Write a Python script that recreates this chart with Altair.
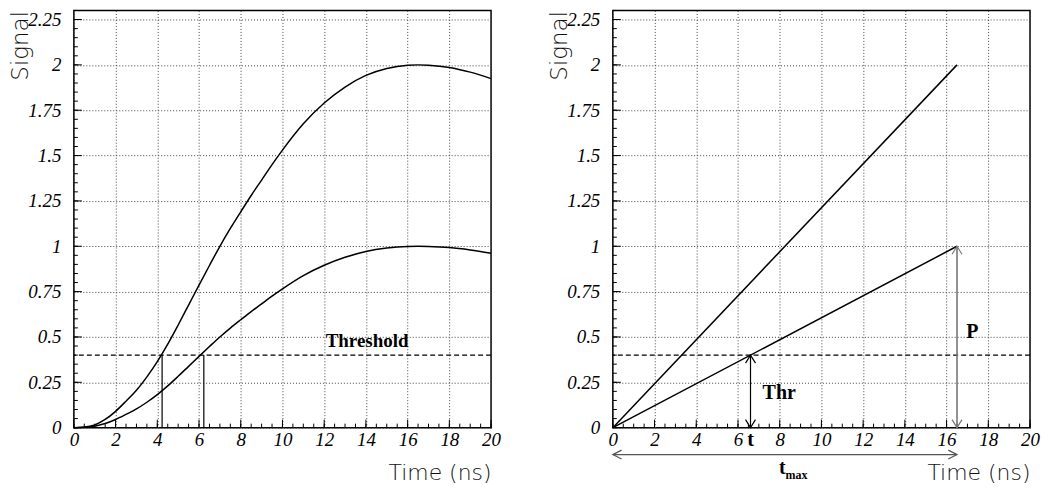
import altair as alt
import numpy as np
import pandas as pd

# ---------------- data ----------------
time_ns = [0, 0.5, 1, 1.5, 2, 2.5, 3, 3.5, 4, 4.5, 5, 5.5, 6, 6.5, 7, 7.5, 8,
           8.5, 9, 9.5, 10, 11, 12, 13, 14, 15, 16, 16.5, 17, 18, 19, 20]
signal_small = [0, 0.0015, 0.0075, 0.0225, 0.045, 0.073, 0.103, 0.14, 0.182, 0.23,
                0.283, 0.338, 0.393, 0.447, 0.5, 0.549, 0.595, 0.64, 0.682, 0.725,
                0.765, 0.838, 0.895, 0.939, 0.971, 0.99, 0.999, 1.0, 0.999, 0.993,
                0.98, 0.962]
signal_large = [0, 0.003, 0.015, 0.045, 0.09, 0.146, 0.206, 0.28, 0.364, 0.46,
                0.566, 0.676, 0.786, 0.894, 1.0, 1.098, 1.19, 1.28, 1.365, 1.45,
                1.53, 1.675, 1.79, 1.878, 1.942, 1.98, 1.998, 2.0, 1.998, 1.986,
                1.96, 1.924]
crossing_times = [4.23, 6.23]
threshold = [0.4]

ramp_time = [0, 16.5]
ramp_small = [0, 1.0]
ramp_large = [0, 2.0]
t_cross = [6.6]
t_peak = [16.5]
peak_value = [1.0]

x_major = list(range(0, 21, 2))
y_major = [0, 0.25, 0.5, 0.75, 1, 1.25, 1.5, 1.75, 2, 2.25]
x_minor = [round(v, 2) for v in np.arange(0, 20.001, 0.5)]
y_minor = [round(v, 3) for v in np.arange(0, 2.3001, 0.05)]

# ---------------- styling ----------------
W = 418
H = 418
SERIF = "Liberation Serif"
SANS = "DejaVu Sans"

xscale = alt.Scale(domain=[0, 20], nice=False, zero=False)
yscale = alt.Scale(domain=[0, 2.3], nice=False, zero=False)

xaxis = alt.Axis(
    values=x_major, format=".3~g", grid=True, gridDash=[1, 2], gridColor="#444", gridWidth=1,
    ticks=False, tickSize=0, domain=False,
    labelFont=SERIF, labelFontStyle="italic", labelFontSize=19, labelColor="black",
    labelPadding=18, labelBaseline="alphabetic", labelFlush=False, labelOverlap=False,
    title="Time (ns)", titleFont=SANS, titleFontSize=22, titleFontWeight=200,
    titleColor="#111", titleX=W, titleY=52, titleAlign="right",
    titleBaseline="alphabetic", titleAngle=0,
)
yaxis = alt.Axis(
    values=y_major, format=".3~g", grid=True, gridDash=[1, 2], gridColor="#444", gridWidth=1,
    ticks=False, tickSize=0, domain=False,
    labelFont=SERIF, labelFontStyle="italic", labelFontSize=19, labelColor="black",
    labelPadding=13, labelBaseline="middle", labelAlign="right", labelFlush=False,
    labelOverlap=False,
    title="Signal", titleFont=SANS, titleFontSize=23, titleFontWeight=200,
    titleColor="#111", titleAngle=270, titleX=-46, titleY=0, titleAlign="right",
    titleBaseline="alphabetic",
)

UP = "M -1 1.6 L 0 0 L 1 1.6"
DOWN = "M -1 -1.6 L 0 0 L 1 -1.6"
LEFT = "M 1.75 -0.9 L 0 0 L 1.75 0.9"
RIGHT = "M -1.75 -0.9 L 0 0 L -1.75 0.9"


def X(field="x"):
    return alt.X(f"{field}:Q", scale=xscale, axis=xaxis)


def Y(field="y"):
    return alt.Y(f"{field}:Q", scale=yscale, axis=yaxis)


def frame_layers():
    xmaj = pd.DataFrame({"x": x_major})
    xmin = pd.DataFrame({"x": x_minor})
    ymaj = pd.DataFrame({"y": y_major})
    ymin = pd.DataFrame({"y": y_minor})
    ticks = [
        alt.Chart(xmaj).mark_rule(color="black", strokeWidth=1).encode(
            x=X(), y=alt.value(H), y2=alt.value(H - 8)),
        alt.Chart(xmin).mark_rule(color="black", strokeWidth=1).encode(
            x=X(), y=alt.value(H), y2=alt.value(H - 4)),
        alt.Chart(ymaj).mark_rule(color="black", strokeWidth=1).encode(
            y=Y(), x=alt.value(0), x2=alt.value(8)),
        alt.Chart(ymin).mark_rule(color="black", strokeWidth=1).encode(
            y=Y(), x=alt.value(0), x2=alt.value(4)),
    ]
    thr = alt.Chart(pd.DataFrame({"y": threshold})).mark_rule(
        color="black", strokeWidth=1.2, strokeDash=[5, 3]).encode(y=Y())
    return ticks + [thr]


def arrowhead(df, shape, color, ypix=None):
    enc = dict(x=X())
    if ypix is None:
        enc["y"] = Y()
    else:
        enc["y"] = alt.value(ypix)
    return alt.Chart(df).mark_point(
        shape=shape, filled=False, size=100, opacity=1, stroke=color,
        strokeWidth=1.2).encode(**enc)


def bold_text(df, size, align, baseline="alphabetic", ypix=None):
    enc = dict(x=X(), text="label:N")
    if ypix is None:
        enc["y"] = Y()
    else:
        enc["y"] = alt.value(ypix)
    return alt.Chart(df).mark_text(
        font=SERIF, fontWeight="bold", fontSize=size, align=align,
        baseline=baseline, color="black").encode(**enc)


# ---------------- left panel ----------------
curves = pd.DataFrame({
    "x": time_ns * 2,
    "y": signal_small + signal_large,
    "series": ["small"] * len(time_ns) + ["large"] * len(time_ns),
})
left_curves = alt.Chart(curves).mark_line(
    color="black", strokeWidth=1.5, interpolate="monotone").encode(
    x=X(), y=Y(), detail="series:N", order="x:Q",
)
vlines = alt.Chart(pd.DataFrame({"x": crossing_times, "y": [0, 0], "y2": threshold * 2})).mark_rule(
    color="black", strokeWidth=1.2).encode(x=X(), y=Y(), y2="y2:Q")
thr_label = bold_text(pd.DataFrame({"x": [12.07], "y": [0.446], "label": ["Threshold"]}), 19, "left")

left = alt.layer(left_curves, *frame_layers(), vlines, thr_label).properties(width=W, height=H)

# ---------------- right panel ----------------
ramps = pd.DataFrame({
    "x": ramp_time * 2,
    "y": ramp_small + ramp_large,
    "series": ["small"] * 2 + ["large"] * 2,
})
right_lines = alt.Chart(ramps).mark_line(color="black", strokeWidth=1.5).encode(
    x=X(), y=Y(), detail="series:N", order="x:Q",
)
thr_arrow = alt.Chart(pd.DataFrame({"x": t_cross, "y": [0], "y2": threshold})).mark_rule(
    color="black", strokeWidth=1.2).encode(x=X(), y=Y(), y2="y2:Q")
thr_top = arrowhead(pd.DataFrame({"x": t_cross, "y": threshold}), UP, "black")
thr_bot = arrowhead(pd.DataFrame({"x": t_cross, "y": [0]}), DOWN, "black")

p_arrow = alt.Chart(pd.DataFrame({"x": t_peak, "y": [0], "y2": peak_value})).mark_rule(
    color="#777", strokeWidth=1.6).encode(x=X(), y=Y(), y2="y2:Q")
p_top = arrowhead(pd.DataFrame({"x": t_peak, "y": peak_value}), UP, "#777")
p_bot = arrowhead(pd.DataFrame({"x": t_peak, "y": [0]}), DOWN, "#777")

tmax_arrow = alt.Chart(pd.DataFrame({"x": [0], "x2": t_peak})).mark_rule(
    color="#555", strokeWidth=1.4).encode(x=X(), x2="x2:Q", y=alt.value(H + 27))
tmax_l = arrowhead(pd.DataFrame({"x": [0]}), LEFT, "#555", ypix=H + 27)
tmax_r = arrowhead(pd.DataFrame({"x": t_peak}), RIGHT, "#555", ypix=H + 27)

lab_thr = bold_text(pd.DataFrame({"x": [7.18], "y": [0.16], "label": ["Thr"]}), 20, "left")
lab_p = bold_text(pd.DataFrame({"x": [16.94], "y": [0.495], "label": ["P"]}), 20, "left")
lab_t = bold_text(pd.DataFrame({"x": t_cross, "label": ["t"]}), 20, "center", ypix=H + 18)
lab_tm = bold_text(pd.DataFrame({"x": [8.28], "label": ["t"]}), 20, "right", ypix=H + 46)
lab_max = bold_text(pd.DataFrame({"x": [8.28], "label": ["max"]}), 12, "left", ypix=H + 51)

right = alt.layer(
    right_lines, *frame_layers(), thr_arrow, thr_top, thr_bot, p_arrow, p_top, p_bot,
    tmax_arrow, tmax_l, tmax_r, lab_thr, lab_p, lab_t, lab_tm, lab_max,
).properties(width=W, height=H)

chart = alt.hconcat(left, right, spacing=122, bounds="flush").configure_view(
    stroke="black", strokeWidth=1.5
).properties(
    padding={"left": 1, "top": 0, "right": 0, "bottom": 0},
    background="white",
)

chart.save("out.html", embed_options={"renderer": "svg", "actions": False})
